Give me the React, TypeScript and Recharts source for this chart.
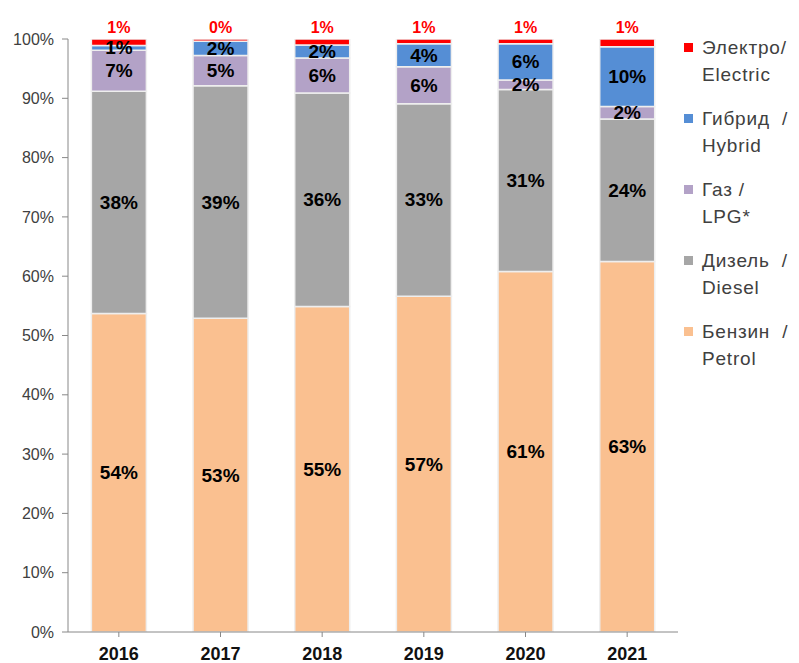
import React from 'react'
import {
  BarChart,
  Bar,
  XAxis,
  YAxis,
  LabelList,
} from 'recharts'

const years = ['2016', '2017', '2018', '2019', '2020', '2021']
const petrol = [53.7, 52.9, 54.9, 56.6, 60.8, 62.5]
const diesel = [37.5, 39.2, 36.0, 32.5, 30.7, 24.0]
const lpg = [6.9, 5.1, 5.9, 6.2, 1.6, 2.1]
const hybrid = [0.8, 2.4, 2.2, 3.9, 6.1, 10.1]
const electric = [1.1, 0.4, 1.0, 0.8, 0.8, 1.3]
const yTicks = [0, 10, 20, 30, 40, 50, 60, 70, 80, 90, 100]

const SERIES = [
  { key: 'electric', ru: 'Электро/', en: 'Electric', color: '#FF0000' },
  { key: 'hybrid', ru: 'Гибрид  /', en: 'Hybrid', color: '#558ED5' },
  { key: 'lpg', ru: 'Газ /', en: 'LPG*', color: '#B3A2C7' },
  { key: 'diesel', ru: 'Дизель  /', en: 'Diesel', color: '#A6A6A6' },
  { key: 'petrol', ru: 'Бензин  /', en: 'Petrol', color: '#FAC090' },
]

const data = years.map((year, i) => ({
  year,
  petrol: petrol[i],
  diesel: diesel[i],
  lpg: lpg[i],
  hybrid: hybrid[i],
  electric: electric[i],
}))

const FONT = 'Arial, "Liberation Sans", sans-serif'

// label in the middle of a segment
const InsideLabel = (props: any) => {
  const { x = 0, y = 0, width = 0, height = 0, value = 0 } = props
  return (
    <text
      x={x + width / 2}
      y={y + height / 2}
      textAnchor="middle"
      dominantBaseline="central"
      fontFamily={FONT}
      fontSize={19}
      fontWeight="bold"
      fill="#000"
    >
      {`${Number(value).toFixed(0)}%`}
    </text>
  )
}

// electric share sits above the bar in red
const TopLabel = (props: any) => {
  const { x = 0, width = 0, value = 0 } = props
  return (
    <text
      x={x + width / 2}
      y={27}
      textAnchor="middle"
      dominantBaseline="central"
      fontFamily={FONT}
      fontSize={16}
      fontWeight="bold"
      fill="#FF0000"
    >
      {`${Number(value).toFixed(0)}%`}
    </text>
  )
}

const LegendBox = () => (
  <div
    style={{
      position: 'absolute',
      left: 684,
      top: 34,
      fontFamily: FONT,
      fontSize: 19,
      letterSpacing: 0.8,
      color: '#404040',
      lineHeight: '27px',
    }}
  >
    {SERIES.map((s) => (
      <div key={s.key} style={{ display: 'flex', marginBottom: 17 }}>
        <div
          style={{
            width: 9,
            height: 9,
            background: s.color,
            marginTop: 9,
            marginRight: 9,
            flexShrink: 0,
          }}
        />
        <div>
          <div style={{ whiteSpace: 'pre' }}>{s.ru}</div>
          <div>{s.en}</div>
        </div>
      </div>
    ))}
  </div>
)

export default function App() {
  const order = ['petrol', 'diesel', 'lpg', 'hybrid', 'electric']
  return (
    <div style={{ position: 'absolute', left: 0, top: 0, width: 799, height: 663, background: '#fff' }}>
      <BarChart
        width={799}
        height={663}
        data={data}
        margin={{ top: 39, right: 121, left: 0, bottom: 0 }}
        barCategoryGap="23%"
      >
        <XAxis
          dataKey="year"
          height={31}
          tickLine={{ stroke: '#888' }}
          axisLine={{ stroke: '#888' }}
          tickSize={5}
          tickMargin={10}
          interval={0}
          tick={{ fontFamily: FONT, fontSize: 18, fontWeight: 'bold', fill: '#111' }}
        />
        <YAxis
          width={68}
          domain={[0, 100]}
          ticks={yTicks}
          allowDataOverflow
          tickFormatter={(v: number) => `${v}%`}
          tickLine={{ stroke: '#888' }}
          axisLine={{ stroke: '#888' }}
          tickSize={6}
          tickMargin={8}
          tick={{ fontFamily: FONT, fontSize: 16, fill: '#404040' }}
        />
        {order.map((key) => {
          const s = SERIES.find((x) => x.key === key)!
          return (
            <Bar
              key={key}
              dataKey={key}
              stackId="a"
              fill={s.color}
              stroke="#eeeeee"
              strokeWidth={1.5}
              isAnimationActive={false}
            >
              {key === 'electric' ? (
                <LabelList dataKey={key} content={TopLabel} />
              ) : (
                <LabelList dataKey={key} content={InsideLabel} />
              )}
            </Bar>
          )
        })}
      </BarChart>
      <LegendBox />
    </div>
  )
}
